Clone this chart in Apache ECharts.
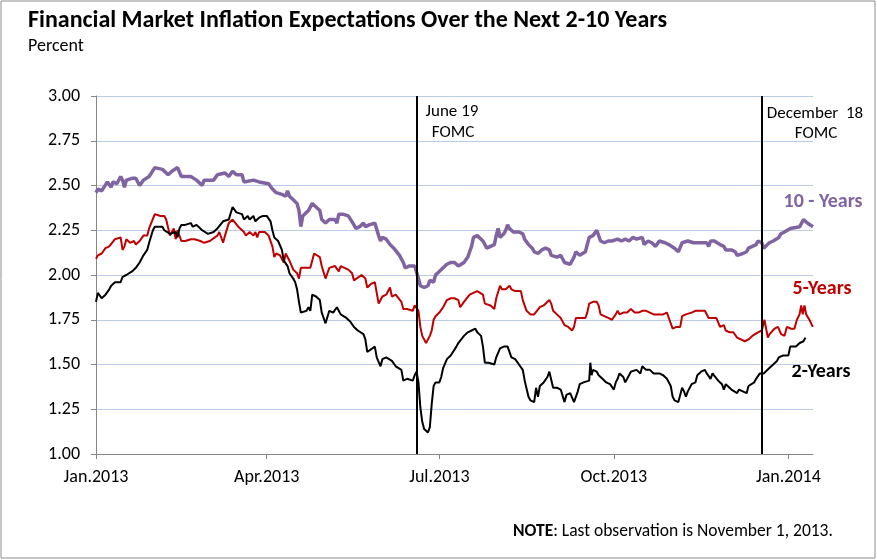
<!DOCTYPE html>
<html>
<head>
<meta charset="utf-8">
<title>Inflation Expectations</title>
<script src="https://cdn.jsdelivr.net/npm/echarts@6/dist/echarts.min.js"></script>
<style>
  body { margin: 0; background: #fff; }
  #main { width: 877px; height: 560px; }
</style>
</head>
<body>
<div id="main"></div>
<script>
// x = days since Jan 1 2013, y = percent
var tickDays = [0, 90, 181, 273, 365];
var tickLabels = ['Jan.2013', 'Apr.2013', 'Jul.2013', 'Oct.2013', 'Jan.2014'];
var fomcDays = [169, 351]; // June 19, December 18

var tenYears = [
  [0,2.46],[1,2.48],[3,2.47],[6,2.52],[8,2.49],[9,2.52],[11,2.51],[13,2.55],[14,2.53],[15,2.49],
  [16,2.53],[19,2.54],[21,2.54],[23,2.50],[25,2.53],[28,2.55],[31,2.60],[35,2.59],[38,2.56],[40,2.58],
  [43,2.60],[45,2.55],[50,2.55],[53,2.53],[56,2.50],[57,2.53],[62,2.53],[64,2.56],[68,2.57],[70,2.55],
  [72,2.58],[74,2.56],[77,2.56],[78,2.52],[83,2.53],[86,2.52],[91,2.51],[93,2.48],[95,2.46],[98,2.45],
  [100,2.44],[101,2.47],[102,2.44],[104,2.42],[106,2.40],[107,2.36],[108,2.27],[109,2.33],[110,2.34],[112,2.36],
  [114,2.40],[115,2.39],[116,2.38],[118,2.36],[119,2.31],[121,2.29],[123,2.31],[126,2.31],[127,2.29],[128,2.34],
  [130,2.34],[133,2.33],[136,2.28],[137,2.26],[139,2.27],[141,2.29],[142,2.27],[144,2.28],[147,2.29],[149,2.22],
  [150,2.19],[151,2.21],[153,2.20],[155,2.17],[157,2.15],[158,2.14],[160,2.11],[162,2.07],[163,2.04],[165,2.05],
  [168,2.05],[169,2.04],[170,1.98],[171,1.94],[173,1.93],[175,1.94],[176,1.97],[178,1.96],[179,2.00],[181,2.02],
  [183,2.04],[185,2.06],[187,2.07],[189,2.07],[191,2.05],[194,2.07],[196,2.10],[197,2.13],[198,2.16],[199,2.21],
  [201,2.22],[202,2.22],[204,2.19],[206,2.15],[208,2.16],[210,2.17],[211,2.22],[212,2.26],[213,2.21],[215,2.23],
  [216,2.25],[217,2.28],[218,2.26],[220,2.24],[223,2.24],[225,2.23],[226,2.20],[228,2.17],[230,2.15],[231,2.13],
  [232,2.14],[233,2.12],[235,2.14],[237,2.15],[239,2.14],[240,2.11],[243,2.10],[245,2.11],[247,2.07],[248,2.07],
  [250,2.06],[251,2.07],[252,2.10],[253,2.13],[254,2.12],[255,2.11],[256,2.12],[258,2.13],[259,2.14],[260,2.21],
  [262,2.22],[263,2.23],[264,2.25],[265,2.26],[266,2.19],[268,2.18],[270,2.19],[271,2.18],[272,2.19],[273,2.19],
  [275,2.20],[277,2.19],[279,2.20],[280,2.20],[281,2.19],[283,2.21],[285,2.20],[288,2.21],[289,2.17],[291,2.19],
  [293,2.18],[294,2.19],[295,2.16],[297,2.19],[300,2.18],[302,2.17],[305,2.15],[307,2.13],[309,2.18],[310,2.18],
  [312,2.19],[315,2.18],[316,2.19],[319,2.18],[322,2.18],[323,2.16],[324,2.19],[326,2.19],[329,2.17],[331,2.16],
  [332,2.14],[335,2.14],[337,2.13],[338,2.11],[339,2.12],[341,2.12],[343,2.13],[344,2.15],[346,2.16],[348,2.17],
  [349,2.19],[351,2.18],[352,2.15],[353,2.16],[355,2.18],[357,2.19],[360,2.21],[361,2.23],[363,2.24],[366,2.26],
  [367,2.27],[371,2.27],[372,2.27],[373,2.31],[374,2.30],[375,2.29],[378,2.27]
];

var fiveYears = [
  [0,2.09],[1,2.11],[3,2.12],[5,2.15],[7,2.16],[8,2.17],[10,2.20],[11,2.19],[13,2.21],[14,2.14],
  [15,2.16],[16,2.20],[18,2.18],[20,2.19],[21,2.17],[23,2.19],[25,2.22],[27,2.22],[28,2.26],[29,2.27],
  [31,2.34],[32,2.35],[34,2.33],[36,2.33],[37,2.31],[39,2.22],[40,2.24],[41,2.26],[42,2.20],[43,2.25],
  [45,2.19],[47,2.19],[50,2.20],[52,2.20],[55,2.19],[57,2.18],[60,2.19],[64,2.22],[65,2.24],[67,2.18],
  [68,2.22],[70,2.29],[72,2.31],[75,2.27],[78,2.24],[79,2.22],[81,2.24],[83,2.22],[84,2.24],[85,2.21],
  [86,2.24],[89,2.24],[91,2.22],[92,2.21],[93,2.16],[94,2.10],[95,2.12],[97,2.11],[99,2.07],[100,2.12],
  [101,2.11],[102,2.08],[104,2.03],[106,2.01],[107,1.98],[108,2.04],[110,2.04],[113,2.04],[115,2.12],[116,2.11],
  [118,2.10],[119,2.05],[121,1.98],[122,2.01],[123,2.04],[126,2.05],[128,2.02],[129,2.05],[131,2.04],[133,2.03],
  [135,2.01],[136,1.97],[137,1.98],[140,2.00],[142,1.98],[143,1.93],[145,1.95],[147,1.96],[149,1.84],[150,1.86],
  [151,1.88],[153,1.89],[155,1.93],[156,1.88],[158,1.89],[159,1.88],[161,1.85],[162,1.81],[164,1.81],[165,1.82],
  [167,1.80],[168,1.83],[169,1.84],[170,1.80],[171,1.71],[172,1.66],[174,1.62],[176,1.66],[177,1.69],[178,1.75],
  [179,1.77],[181,1.79],[183,1.82],[185,1.86],[187,1.87],[189,1.87],[191,1.86],[192,1.82],[194,1.85],[195,1.86],
  [197,1.89],[199,1.90],[201,1.91],[202,1.91],[204,1.89],[205,1.84],[208,1.83],[210,1.81],[211,1.87],[213,1.94],
  [214,1.92],[216,1.92],[217,1.93],[218,1.94],[219,1.92],[221,1.91],[224,1.91],[225,1.86],[227,1.80],[229,1.78],
  [230,1.77],[231,1.78],[232,1.77],[234,1.82],[236,1.83],[237,1.83],[239,1.86],[240,1.84],[241,1.80],[243,1.78],
  [245,1.76],[247,1.72],[249,1.71],[251,1.69],[252,1.71],[253,1.76],[255,1.76],[258,1.76],[259,1.79],[260,1.84],
  [262,1.85],[264,1.85],[265,1.83],[266,1.78],[268,1.77],[270,1.76],[272,1.75],[273,1.74],[274,1.78],[275,1.80],
  [276,1.78],[278,1.79],[280,1.79],[281,1.79],[282,1.81],[284,1.79],[286,1.79],[288,1.80],[289,1.79],[290,1.80],
  [292,1.79],[294,1.78],[295,1.77],[297,1.78],[299,1.78],[301,1.79],[302,1.76],[304,1.70],[306,1.71],[308,1.71],
  [309,1.77],[311,1.78],[314,1.79],[316,1.80],[318,1.80],[321,1.80],[323,1.76],[324,1.76],[327,1.76],[329,1.71],
  [331,1.72],[332,1.69],[334,1.68],[336,1.68],[338,1.65],[339,1.64],[342,1.63],[344,1.64],[346,1.66],[349,1.68],
  [351,1.69],[352,1.68],[352.4,1.75],[353.3,1.70],[354.2,1.65],[355.1,1.67],[357.7,1.70],[359.5,1.71],[361.2,1.67],[363,1.66],
  [364.2,1.71],[366.5,1.70],[368.2,1.70],[369.5,1.75],[370.9,1.78],[371.8,1.83],[372.6,1.78],[373.5,1.83],[374.4,1.78],[376.1,1.75],
  [377.9,1.71]
];

var twoYears = [
  [0,1.85],[1,1.90],[3,1.87],[5,1.89],[7,1.92],[8,1.94],[10,1.96],[11,1.95],[13,1.96],[14,1.99],
  [16,2.00],[19,2.02],[21,2.04],[23,2.07],[25,2.11],[27,2.14],[28,2.18],[30,2.25],[31,2.27],[33,2.27],
  [35,2.27],[36,2.25],[37,2.25],[39,2.23],[40,2.24],[42,2.24],[43,2.21],[44,2.26],[45,2.28],[47,2.28],
  [48,2.29],[50,2.29],[51,2.27],[53,2.28],[56,2.25],[57,2.24],[59,2.23],[62,2.24],[64,2.26],[67,2.30],
  [70,2.31],[72,2.38],[74,2.35],[77,2.34],[78,2.31],[80,2.33],[81,2.31],[83,2.33],[84,2.30],[86,2.32],
  [88,2.33],[90,2.33],[92,2.30],[93,2.25],[94,2.21],[96,2.19],[97,2.18],[98,2.14],[99,2.08],[100,2.07],
  [101,2.05],[102,2.01],[104,1.98],[105,1.96],[106,1.92],[107,1.85],[108,1.79],[109,1.80],[111,1.80],[112,1.82],
  [113,1.80],[114,1.89],[116,1.88],[118,1.86],[119,1.79],[121,1.73],[122,1.73],[123,1.80],[125,1.79],[127,1.82],
  [128,1.80],[129,1.78],[132,1.76],[134,1.74],[136,1.71],[138,1.69],[141,1.67],[142,1.64],[143,1.57],[144,1.58],
  [147,1.60],[148,1.54],[150,1.49],[151,1.53],[153,1.54],[156,1.52],[158,1.49],[161,1.47],[162,1.41],[164,1.42],
  [165,1.41],[167,1.41],[168,1.44],[169,1.46],[170,1.40],[171,1.26],[172,1.18],[173,1.14],[175,1.12],[176,1.15],
  [177,1.28],[178,1.38],[179,1.40],[181,1.40],[182,1.43],[183,1.48],[185,1.53],[187,1.55],[188,1.56],[190,1.60],
  [191,1.62],[192,1.63],[194,1.66],[195,1.66],[196,1.68],[198,1.69],[200,1.70],[201,1.68],[203,1.66],[204,1.60],
  [205,1.51],[207,1.51],[208,1.51],[210,1.50],[211,1.54],[213,1.59],[215,1.60],[217,1.60],[218,1.59],[219,1.54],
  [221,1.53],[222,1.52],[223,1.50],[225,1.47],[226,1.41],[228,1.32],[229,1.30],[231,1.29],[232,1.37],[233,1.32],
  [234,1.38],[236,1.40],[238,1.43],[239,1.46],[240,1.45],[241,1.37],[243,1.37],[245,1.36],[247,1.29],[248,1.33],
  [250,1.34],[251,1.34],[252,1.29],[254,1.35],[255,1.39],[257,1.40],[258,1.40],[260,1.41],[260.6,1.51],[261.3,1.44],
  [262,1.47],[264,1.46],[265,1.44],[267,1.42],[269,1.40],[271,1.39],[273,1.36],[274,1.40],[275,1.42],[276,1.45],
  [278,1.43],[279,1.40],[280,1.40],[282,1.46],[283,1.47],[285,1.47],[287,1.45],[288,1.49],[290,1.47],[292,1.47],
  [294,1.45],[295,1.45],[297,1.45],[299,1.44],[301,1.42],[302,1.41],[303,1.38],[304,1.32],[305,1.30],[307,1.29],
  [308,1.30],[309,1.37],[310,1.35],[311,1.32],[312,1.35],[314,1.39],[316,1.40],[317,1.44],[319,1.46],[321,1.47],
  [322,1.45],[324,1.42],[325,1.45],[326,1.44],[328,1.41],[330,1.39],[331,1.36],[332,1.39],[335,1.36],[338,1.34],
  [339,1.36],[341,1.35],[343,1.34],[344,1.38],[345,1.37],[347,1.40],[348,1.42],[350,1.45],[352,1.45],[353,1.45],
  [355,1.48],[357,1.50],[359,1.52],[360,1.54],[361,1.53],[362,1.55],[363,1.55],[365,1.55],[366,1.60],[367,1.60],
  [369,1.60],[371,1.62],[373,1.63],[374,1.65]
];

var FONT = 'Calibri, Carlito, Lato, sans-serif';

var chart = echarts.init(document.getElementById('main'));

function txt(x, y, text, font, fill, align) {
  return {
    type: 'text', x: x, y: y, silent: true,
    style: { text: text, font: font + ' ' + FONT, fill: fill,
      align: align, verticalAlign: 'middle', textAlign: align, textVerticalAlign: 'middle' }
  };
}

var option = {
  animation: false,
  grid: { left: 96, right: 64, top: 96, bottom: 106, containLabel: false },
  xAxis: {
    type: 'value',
    min: 0,
    max: 378,
    axisLine: { lineStyle: { color: '#868686', width: 1 } },
    axisTick: { show: true, length: 5, lineStyle: { color: '#868686' }, customValues: tickDays },
    axisLabel: {
      customValues: tickDays,
      margin: 14,
      color: '#000',
      fontFamily: FONT,
      fontSize: 18,
      formatter: function (v) {
        var i = tickDays.indexOf(v);
        return i >= 0 ? tickLabels[i] : '';
      }
    },
    splitLine: { show: false }
  },
  yAxis: {
    type: 'value',
    min: 1,
    max: 3,
    interval: 0.25,
    axisLine: { show: true, lineStyle: { color: '#868686', width: 1 } },
    axisTick: { show: true, length: 5, lineStyle: { color: '#868686' } },
    axisLabel: {
      margin: 16,
      color: '#000',
      fontFamily: FONT,
      fontSize: 18,
      formatter: function (v) { return v.toFixed(2); }
    },
    splitLine: { show: true, lineStyle: { color: '#b9cbe6', width: 1 } }
  },
  series: [
    {
      name: '10 - Years',
      type: 'line',
      data: tenYears,
      symbol: 'none',
      lineStyle: { color: '#8064a2', width: 3.5 },
      z: 3
    },
    {
      name: '5-Years',
      type: 'line',
      data: fiveYears,
      symbol: 'none',
      lineStyle: { color: '#c00000', width: 2 },
      z: 3
    },
    {
      name: '2-Years',
      type: 'line',
      data: twoYears,
      symbol: 'none',
      lineStyle: { color: '#000000', width: 2 },
      z: 4,
      markLine: {
        silent: true,
        symbol: ['none', 'none'],
        label: { show: false },
        lineStyle: { color: '#000', width: 2, type: 'solid' },
        data: fomcDays.map(function (d) { return { xAxis: d }; })
      }
    }
  ],
  graphic: [
    {
      type: 'rect',
      shape: { x: 1, y: 1, width: 874, height: 557 },
      style: { fill: 'none', stroke: '#8c8c8c', lineWidth: 1 },
      silent: true
    },
    txt(28, 21, 'Financial Market Inflation Expectations Over the Next 2-10 Years', 'bold 24px', '#000', 'left'),
    txt(28, 46, 'Percent', '18px', '#000', 'left'),
    txt(452, 112, 'June 19', '17px', '#000', 'center'),
    txt(453, 133, 'FOMC', '17px', '#000', 'center'),
    txt(815, 114, 'December  18', '17px', '#000', 'center'),
    txt(816, 134, 'FOMC', '17px', '#000', 'center'),
    txt(823, 202, '10 - Years', 'bold 20px', '#8064a2', 'center'),
    txt(822, 289, '5-Years', 'bold 20px', '#c00000', 'center'),
    txt(821, 372, '2-Years', 'bold 20px', '#000', 'center'),
    {
      type: 'text', x: 513, y: 532, silent: true,
      style: {
        text: '{b|NOTE}: Last observation is November 1, 2013.',
        font: '17.5px ' + FONT, fill: '#000', align: 'left', verticalAlign: 'middle',
        textAlign: 'left', textVerticalAlign: 'middle',
        rich: { b: { fontWeight: 'bold', fontSize: 17.5, fontFamily: FONT, fill: '#000' } }
      }
    }
  ]
};

chart.setOption(option);
</script>
</body>
</html>
